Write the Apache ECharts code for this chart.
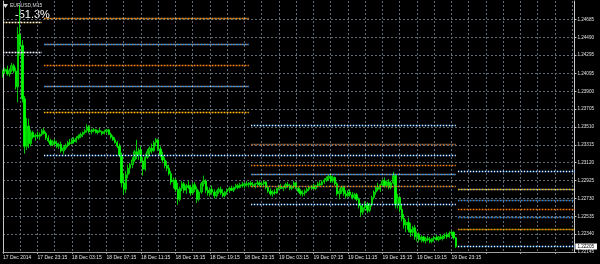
<!DOCTYPE html>
<html><head><meta charset="utf-8">
<script src="https://cdn.jsdelivr.net/npm/echarts@6/dist/echarts.min.js"></script>
<style>html,body{margin:0;padding:0;background:#000}#c{width:600px;height:264px}</style>
</head><body><div id="c"></div>
<script>
const symbolName = 'EURUSD,M15';
const indicatorText = '-51.3%';
const xTickLabels = ['17 Dec 2014','17 Dec 23:15','18 Dec 03:15','18 Dec 07:15','18 Dec 11:15','18 Dec 15:15','18 Dec 19:15','18 Dec 23:15','19 Dec 03:15','19 Dec 07:15','19 Dec 11:15','19 Dec 15:15','19 Dec 19:15','19 Dec 23:15'];
const yTickLabels = ['1.24685','1.24490','1.24295','1.24095','1.23900','1.23705','1.23510','1.23315','1.23120','1.22925','1.22730','1.22535','1.22340','1.22145'];
const bidPrice = 1.22205;
const yMin = 1.22145, yMax = 1.24887;
const slotCount = 266; // bars shown incl. empty right shift

const opens = [
1.2410,1.2412,1.2414,1.2409,1.2413,1.2418,1.2412,1.2395,1.2452,1.2440,
1.2382,1.2330,1.2352,1.2333,1.2345,1.2340,1.2342,1.2341,1.2343,1.2347,
1.2344,1.2339,1.2336,1.2332,1.2335,1.2333,1.2330,1.2332,1.2325,1.2328,
1.2331,1.2334,1.2333,1.2337,1.2335,1.2339,1.2341,1.2343,1.2345,1.2347,
1.2351,1.2346,1.2347,1.2348,1.2345,1.2347,1.2346,1.2344,1.2346,1.2348,
1.2343,1.2340,1.2337,1.2334,1.2330,1.2320,1.2290,1.2283,1.2299,1.2306,
1.2310,1.2315,1.2324,1.2320,1.2326,1.2314,1.2305,1.2318,1.2324,1.2328,
1.2325,1.2334,1.2337,1.2327,1.2320,1.2315,1.2309,1.2306,1.2300,1.2291,
1.2293,1.2283,1.2272,1.2284,1.2289,1.2282,1.2287,1.2285,1.2279,1.2288,
1.2283,1.2272,1.2280,1.2289,1.2292,1.2282,1.2279,1.2283,1.2280,1.2276,
1.2280,1.2283,1.2279,1.2276,1.2280,1.2282,1.2284,1.2282,1.2285,1.2287,
1.2285,1.2288,1.2287,1.2289,1.2288,1.2290,1.2288,1.2287,1.2289,1.2290,
1.2288,1.2289,1.2291,1.2285,1.2281,1.2278,1.2280,1.2279,1.2284,1.2286,
1.2284,1.2285,1.2288,1.2287,1.2284,1.2286,1.2290,1.2284,1.2281,1.2278,
1.2279,1.2281,1.2283,1.2285,1.2286,1.2284,1.2287,1.2289,1.2288,1.2291,
1.2293,1.2295,1.2297,1.2292,1.2296,1.2289,1.2278,1.2281,1.2285,1.2278,
1.2276,1.2280,1.2277,1.2274,1.2277,1.2272,1.2265,1.2258,1.2263,1.2267,
1.2260,1.2266,1.2274,1.2280,1.2285,1.2283,1.2288,1.2292,1.2287,1.2291,
1.2285,1.2290,1.2298,1.2266,1.2274,1.2261,1.2251,1.2244,1.2247,1.2239,
1.2236,1.2241,1.2231,1.2234,1.2228,1.2231,1.2227,1.2229,1.2228,1.2226,
1.2229,1.2230,1.2228,1.2231,1.2229,1.2232,1.2233,1.2231,1.2235,1.2236,1.2230];
const highs = [
1.2414,1.2416,1.2418,1.2415,1.2421,1.2420,1.2416,1.2460,1.2484,1.2446,
1.2385,1.2361,1.2360,1.2348,1.2347,1.2344,1.2346,1.2345,1.2349,1.2350,
1.2346,1.2342,1.2338,1.2337,1.2338,1.2336,1.2334,1.2335,1.2330,1.2333,
1.2336,1.2338,1.2339,1.2340,1.2341,1.2343,1.2345,1.2346,1.2349,1.2354,
1.2353,1.2349,1.2350,1.2349,1.2348,1.2350,1.2347,1.2348,1.2349,1.2349,
1.2345,1.2342,1.2340,1.2336,1.2333,1.2323,1.2300,1.2303,1.2310,1.2312,
1.2318,1.2326,1.2337,1.2328,1.2330,1.2318,1.2322,1.2327,1.2330,1.2333,
1.2336,1.2339,1.2338,1.2330,1.2324,1.2318,1.2314,1.2310,1.2303,1.2296,
1.2295,1.2290,1.2286,1.2292,1.2291,1.2289,1.2292,1.2288,1.2290,1.2291,
1.2286,1.2282,1.2291,1.2298,1.2294,1.2286,1.2285,1.2287,1.2283,1.2282,
1.2285,1.2286,1.2283,1.2281,1.2284,1.2286,1.2287,1.2286,1.2289,1.2289,
1.2290,1.2291,1.2290,1.2292,1.2291,1.2292,1.2291,1.2290,1.2293,1.2292,
1.2291,1.2293,1.2292,1.2287,1.2284,1.2282,1.2283,1.2285,1.2288,1.2289,
1.2287,1.2290,1.2291,1.2289,1.2288,1.2292,1.2291,1.2286,1.2283,1.2282,
1.2283,1.2285,1.2287,1.2288,1.2289,1.2288,1.2291,1.2292,1.2293,1.2295,
1.2297,1.2299,1.2300,1.2298,1.2297,1.2291,1.2284,1.2287,1.2287,1.2282,
1.2282,1.2283,1.2280,1.2279,1.2279,1.2274,1.2268,1.2266,1.2270,1.2269,
1.2268,1.2276,1.2282,1.2287,1.2290,1.2289,1.2294,1.2296,1.2293,1.2294,
1.2292,1.2302,1.2300,1.2278,1.2276,1.2266,1.2256,1.2250,1.2252,1.2246,
1.2243,1.2244,1.2237,1.2236,1.2233,1.2232,1.2231,1.2232,1.2231,1.2230,
1.2232,1.2233,1.2232,1.2234,1.2233,1.2235,1.2236,1.2237,1.2238,1.2237,1.2231];
const lows = [
1.2405,1.2409,1.2407,1.2406,1.2411,1.2410,1.2392,1.2378,1.2430,1.2378,
1.2322,1.2326,1.2328,1.2330,1.2338,1.2336,1.2339,1.2337,1.2341,1.2343,
1.2337,1.2334,1.2330,1.2330,1.2331,1.2328,1.2327,1.2323,1.2321,1.2326,
1.2329,1.2331,1.2332,1.2333,1.2334,1.2337,1.2339,1.2340,1.2343,1.2345,
1.2344,1.2343,1.2345,1.2344,1.2343,1.2345,1.2342,1.2343,1.2344,1.2342,
1.2338,1.2336,1.2333,1.2328,1.2318,1.2285,1.2277,1.2279,1.2295,1.2300,
1.2306,1.2313,1.2316,1.2315,1.2312,1.2298,1.2303,1.2316,1.2320,1.2322,
1.2324,1.2330,1.2325,1.2318,1.2312,1.2306,1.2303,1.2298,1.2288,1.2284,
1.2280,1.2266,1.2270,1.2281,1.2279,1.2278,1.2283,1.2276,1.2277,1.2280,
1.2268,1.2270,1.2278,1.2286,1.2279,1.2276,1.2275,1.2277,1.2273,1.2274,
1.2278,1.2277,1.2274,1.2274,1.2277,1.2279,1.2281,1.2280,1.2283,1.2283,
1.2284,1.2285,1.2284,1.2286,1.2285,1.2286,1.2285,1.2284,1.2287,1.2286,
1.2285,1.2287,1.2283,1.2279,1.2276,1.2275,1.2277,1.2278,1.2282,1.2283,
1.2281,1.2283,1.2285,1.2282,1.2282,1.2284,1.2283,1.2279,1.2276,1.2275,
1.2276,1.2279,1.2281,1.2282,1.2283,1.2282,1.2285,1.2286,1.2287,1.2289,
1.2291,1.2292,1.2290,1.2290,1.2287,1.2276,1.2272,1.2278,1.2276,1.2273,
1.2274,1.2275,1.2272,1.2272,1.2270,1.2262,1.2253,1.2255,1.2260,1.2257,
1.2258,1.2264,1.2272,1.2277,1.2281,1.2280,1.2286,1.2285,1.2285,1.2283,
1.2283,1.2288,1.2262,1.2262,1.2258,1.2248,1.2240,1.2236,1.2236,1.2231,
1.2232,1.2228,1.2226,1.2225,1.2225,1.2225,1.2224,1.2226,1.2224,1.2224,
1.2226,1.2227,1.2226,1.2228,1.2227,1.2229,1.2229,1.2230,1.2232,1.2228,1.2219];
const closes = [
1.2412,1.2414,1.2409,1.2413,1.2418,1.2412,1.2395,1.2452,1.2440,1.2382,
1.2330,1.2352,1.2333,1.2345,1.2340,1.2342,1.2341,1.2343,1.2347,1.2344,
1.2339,1.2336,1.2332,1.2335,1.2333,1.2330,1.2332,1.2325,1.2328,1.2331,
1.2334,1.2333,1.2337,1.2335,1.2339,1.2341,1.2343,1.2345,1.2347,1.2351,
1.2346,1.2347,1.2348,1.2345,1.2347,1.2346,1.2344,1.2346,1.2348,1.2343,
1.2340,1.2337,1.2334,1.2330,1.2320,1.2290,1.2283,1.2299,1.2306,1.2310,
1.2315,1.2324,1.2320,1.2326,1.2314,1.2305,1.2318,1.2324,1.2328,1.2325,
1.2334,1.2337,1.2327,1.2320,1.2315,1.2309,1.2306,1.2300,1.2291,1.2293,
1.2283,1.2272,1.2284,1.2289,1.2282,1.2287,1.2285,1.2279,1.2288,1.2283,
1.2272,1.2280,1.2289,1.2292,1.2282,1.2279,1.2283,1.2280,1.2276,1.2280,
1.2283,1.2279,1.2276,1.2280,1.2282,1.2284,1.2282,1.2285,1.2287,1.2285,
1.2288,1.2287,1.2289,1.2288,1.2290,1.2288,1.2287,1.2289,1.2290,1.2288,
1.2289,1.2291,1.2285,1.2281,1.2278,1.2280,1.2279,1.2284,1.2286,1.2284,
1.2285,1.2288,1.2287,1.2284,1.2286,1.2290,1.2284,1.2281,1.2278,1.2279,
1.2281,1.2283,1.2285,1.2286,1.2284,1.2287,1.2289,1.2288,1.2291,1.2293,
1.2295,1.2297,1.2292,1.2296,1.2289,1.2278,1.2281,1.2285,1.2278,1.2276,
1.2280,1.2277,1.2274,1.2277,1.2272,1.2265,1.2258,1.2263,1.2267,1.2260,
1.2266,1.2274,1.2280,1.2285,1.2283,1.2288,1.2292,1.2287,1.2291,1.2285,
1.2290,1.2298,1.2266,1.2274,1.2261,1.2251,1.2244,1.2247,1.2239,1.2236,
1.2241,1.2231,1.2234,1.2228,1.2231,1.2227,1.2229,1.2228,1.2226,1.2229,
1.2230,1.2228,1.2231,1.2229,1.2232,1.2233,1.2231,1.2235,1.2236,1.2230,1.22205];

// daily level lines: bar index ranges and prices
const levelStarts = [0, 19, 115, 211];
const levelEnds = [18, 114, 210, 265];
const levelPrices = [
  [1.24659, 1.24331],
  [1.24696, 1.24412, 1.24183, 1.23957, 1.23669, 1.23206],
  [1.23534, 1.23323, 1.23203, 1.23090, 1.22993, 1.22864, 1.22664],
  [1.23028, 1.22828, 1.22711, 1.22616, 1.22520, 1.22398, 1.22203]
];

// styles
const levelColors = [
  [['#ffffff','#ffe27a'], ['#ffffff','#d8d8ff']],
  [['#ff8c00','#ffd27a'], ['#1e90ff','#ffffff'], ['#ff8c00','#d2691e'], ['#1e90ff','#ffffff'], ['#ffd700','#ff8c00'], ['#ffffff','#1e90ff']],
  [['#ffffff','#1e90ff'], ['#d2691e','#909090'], ['#ffffff','#1e90ff'], ['#ff8c00','#a0522d'], ['#1e90ff','#ffffff'], ['#ff8c00','#909090'], ['#ffffff','#1e90ff']],
  [['#ffffff','#1e90ff'], ['#ffd700','#ffffff'], ['#1e90ff','#909090'], ['#ff8c00','#cc5500'], ['#1e90ff','#909090'], ['#ff8c00','#ffd700'], ['#ffffff','#1e90ff']]
];
const FONT = 'Liberation Sans';
const gridColor = '#5f6b77';

const categories = Array.from({length: slotCount}, (_, i) => i);
const candleData = opens.map((o, i) => [o, closes[i], lows[i], highs[i]]);
const yTickValues = yTickLabels.map(Number);

const markData = [];
levelPrices.forEach((seg, s) => seg.forEach((p, k) => {
  levelColors[s][k].forEach((c, j) => {
    markData.push([
      {coord: [levelStarts[s], p], lineStyle: {color: c, width: 1.3, type: [1, 2], dashOffset: j * 1.5}},
      {coord: [levelEnds[s], p]}
    ]);
  });
}));
markData.push({
  yAxis: bidPrice,
  lineStyle: {color: '#8795a3', width: 1, type: 'solid'}
});

const chart = echarts.init(document.getElementById('c'), null, {renderer: 'canvas'});
chart.setOption({
  backgroundColor: '#000000',
  animation: false,
  grid: {left: 2, right: 24, top: 1, bottom: 12},
  xAxis: {
    type: 'category', data: categories, boundaryGap: false,
    axisLine: {show: true, lineStyle: {color: '#a0a0a0', width: 1}},
    axisTick: {show: true, interval: 15, length: 2, lineStyle: {color: '#a0a0a0'}},
    axisLabel: {show: true, interval: 15, align: 'left', margin: 3, fontSize: 5, color: '#e0e0e0', fontFamily: FONT,
      formatter: (v, i) => xTickLabels[i / 16] || ''},
    splitLine: {show: true, interval: 7, lineStyle: {color: gridColor, type: [2, 2], width: 1}}
  },
  yAxis: [{
    type: 'value', position: 'right', min: yMin, max: yMax, scale: true,
    axisLine: {show: true, lineStyle: {color: '#c8c8c8', width: 1}},
    axisTick: {show: true, customValues: yTickValues, length: 2, lineStyle: {color: '#c8c8c8'}},
    axisLabel: {show: true, customValues: yTickValues, margin: 3, fontSize: 4.6, color: '#e0e0e0', fontFamily: FONT,
      formatter: v => yTickLabels[yTickValues.indexOf(v)] || v.toFixed(5)},
    splitLine: {show: true, lineStyle: {color: gridColor, type: [2, 2], width: 1}}
  }, {
    type: 'value', position: 'left', min: yMin, max: yMax, scale: true,
    axisLine: {show: true, lineStyle: {color: '#c8c8c8', width: 1}},
    axisTick: {show: false}, axisLabel: {show: false}, splitLine: {show: false}
  }, {
    type: 'value', position: 'right', min: yMin, max: yMax, scale: true,
    axisLine: {show: false}, axisTick: {show: false}, splitLine: {show: false},
    axisLabel: {show: true, customValues: [bidPrice], margin: 1, fontSize: 4.6, color: '#000000', fontFamily: FONT,
      backgroundColor: '#ffffff', padding: [1, 3, 0, 2], formatter: v => v.toFixed(5)}
  }],
  series: [{
    type: 'candlestick',
    data: candleData,
    barWidth: 1.8,
    itemStyle: {color: '#009000', color0: '#00ff00', borderColor: '#00f000', borderColor0: '#00ff00', borderWidth: 0.8},
    markLine: {silent: true, symbol: ['none', 'none'], label: {show: false}, data: markData, animation: false}
  }],
  graphic: [
    {type: 'polygon', shape: {points: [[3, 4], [8, 4], [5.5, 8]]}, style: {fill: '#dddddd'}},
    {type: 'text', left: 10, top: 3, style: {text: symbolName, fontSize: 5, fill: '#dddddd', fontFamily: FONT}},
    {type: 'text', left: 15, top: 9, style: {text: indicatorText, fontSize: 11, fill: '#ffffff', fontFamily: FONT}}
  ]
});
</script></body></html>
